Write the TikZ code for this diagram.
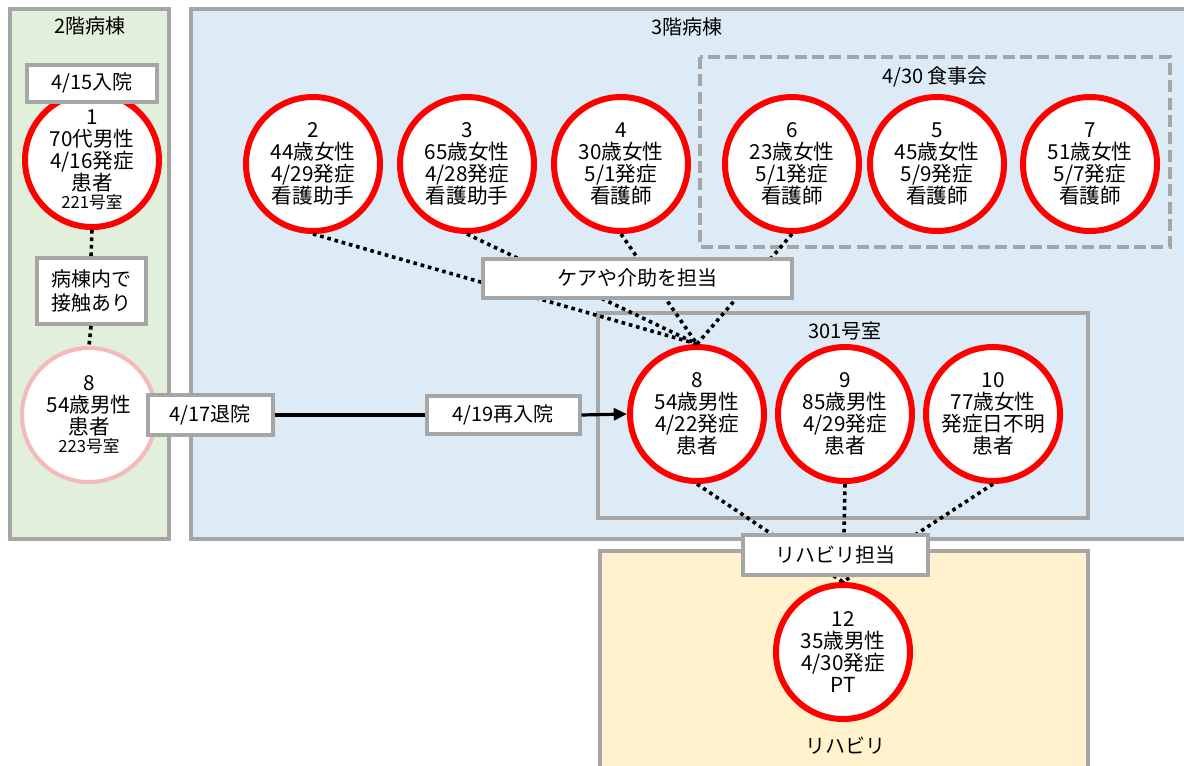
\documentclass[tikz,border=0pt]{standalone}
\usepackage{fontspec}
\setmainfont{Noto Sans CJK JP}
\usetikzlibrary{arrows.meta}
\definecolor{pgreen}{HTML}{E2EFDA}
\definecolor{pblue}{HTML}{DDEBF7}
\definecolor{pyellow}{HTML}{FFF2CC}
\definecolor{bgray}{HTML}{A6A6A6}
\definecolor{pred}{HTML}{FF0000}
\definecolor{ppink}{HTML}{F4B9B9}
\tikzset{
  panel/.style={draw=bgray, line width=3pt},
  person/.style={circle, draw=pred, line width=4.5pt, fill=white, minimum size=100.5pt, inner sep=0pt, align=center, font=\fontsize{15.5pt}{16.5pt}\selectfont},
  paleperson/.style={person, draw=ppink, line width=3pt},
  tag/.style={draw=bgray, line width=3pt, fill=white, align=center, inner sep=0pt, font=\fontsize{15pt}{18.5pt}\selectfont},
  ttl/.style={font=\fontsize{15pt}{16pt}\selectfont, inner sep=0pt},
  dotline/.style={line width=2.7pt, dash pattern=on 2.7pt off 2.9pt, black},
  solidline/.style={line width=2.4pt, black}
}
\newcommand{\sm}[1]{{\fontsize{12.5pt}{13pt}\selectfont #1}}
\begin{document}
\begin{tikzpicture}[x=0.75pt,y=-0.75pt]
\clip (0,0) rectangle (1184,765);
\fill[white] (0,0) rectangle (1184,765);
% panels
\draw[panel, fill=pgreen] (10,9) rectangle (169,539);
\draw[panel, fill=pblue] (191,9) rectangle (1200,539);
\draw[panel, fill=pyellow] (600,551) rectangle (1088,780);
\draw[draw=bgray, line width=3pt, dash pattern=on 9pt off 4pt] (700,57) rectangle (1170,247);
\draw[panel] (598,313) rectangle (1088,518);
% titles
\node[ttl] (t2) at (90,26) {2階病棟};
\node[ttl] (t3) at (687,27) {3階病棟};
\node[ttl] (tm) at (935,77) {4/30 食事会};
\node[ttl] (tr) at (845,331) {301号室};
\node[ttl] (tre) at (845,746) {リハビリ};
% persons
\node[person] (c1) at (92,160) {1\\70代男性\\4/16発症\\患者\\[-3pt]\sm{221号室}};
\node[paleperson] (c8l) at (89,415) {8\\54歳男性\\患者\\[-3pt]\sm{223号室}};
\node[person] (c2) at (313,164) {2\\44歳女性\\4/29発症\\看護助手};
\node[person] (c3) at (467,164) {3\\65歳女性\\4/28発症\\看護助手};
\node[person] (c4) at (621,164) {4\\30歳女性\\5/1発症\\看護師};
\node[person] (c6) at (792,164) {6\\23歳女性\\5/1発症\\看護師};
\node[person] (c5) at (937,164) {5\\45歳女性\\5/9発症\\看護師};
\node[person] (c7) at (1090,164) {7\\51歳女性\\5/7発症\\看護師};
\node[person] (c8) at (697,414) {8\\54歳男性\\4/22発症\\患者};
\node[person] (c9) at (845,414) {9\\85歳男性\\4/29発症\\患者};
\node[person] (c10) at (993,414) {10\\77歳女性\\発症日不明\\患者};
\node[person] (c12) at (843,652) {12\\35歳男性\\4/30発症\\PT};
% connectors behind tags
\draw[dotline] (c2.south) -- (c8.north);
\draw[dotline] (c3.south) -- (c8.north);
\draw[dotline] (c4.south) -- (c8.north);
\draw[dotline] (c6.south) -- (c8.north);
\draw[dotline] (c8.south) -- (c12.north);
\draw[dotline] (c9.south) -- (c12.north);
\draw[dotline] (c10.south) -- (c12.north);
% tags
\node[tag, minimum width=97.5pt, minimum height=27.75pt] (l415) at (92,83) {4/15入院};
\node[tag, minimum width=81.75pt, minimum height=49.5pt] (lct) at (91,291) {病棟内で\\接触あり};
\node[tag, minimum width=93.75pt, minimum height=30pt] (l417) at (210,415) {4/17退院};
\node[tag, minimum width=114.75pt, minimum height=28.5pt] (l419) at (503,415) {4/19再入院};
\node[tag, minimum width=231.75pt, minimum height=29.25pt] (lcare) at (637,278) {ケアや介助を担当};
\node[tag, minimum width=138.75pt, minimum height=30pt] (lreh) at (835,555) {リハビリ担当};
\draw[dotline] (c1.south) -- (lct.north);
\draw[dotline] (lct.south) -- (c8l.north);
\draw[solidline] (l417.east) -- (l419.west);
\draw[solidline, -{Triangle[length=10pt,width=9pt]}] (l419.east) -- (c8.west);
\end{tikzpicture}
\end{document}
